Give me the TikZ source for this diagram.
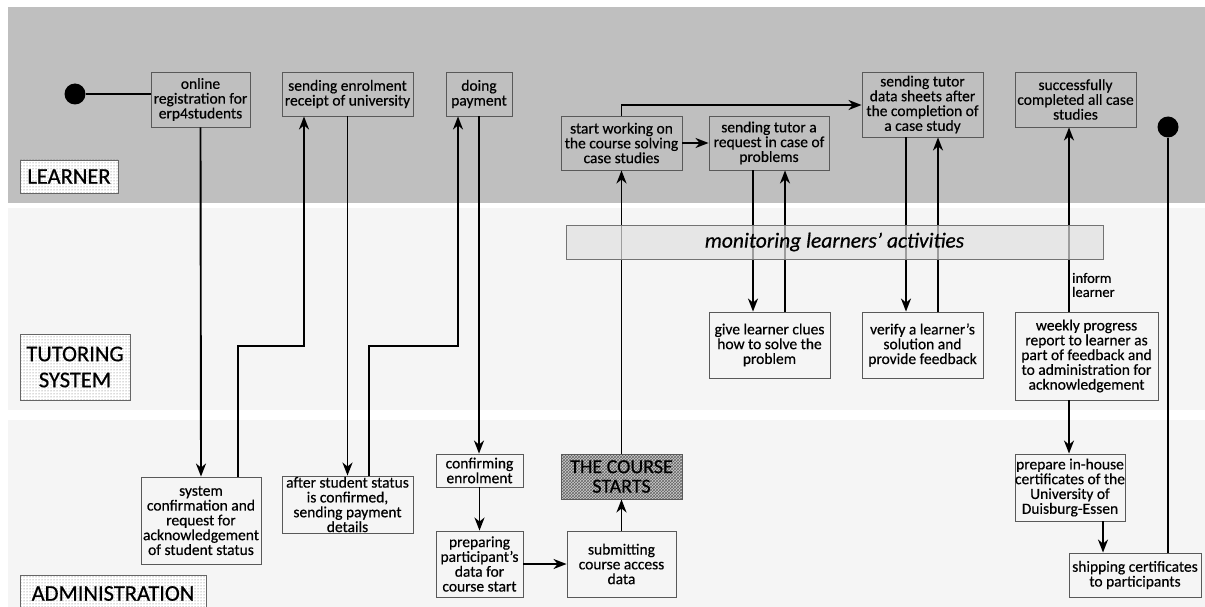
\documentclass[tikz,border=0pt]{standalone}
\usepackage{fontspec}
\setmainfont{Carlito}
\newfontfamily\nf{Carlito}[FakeBold=0.5]
\usetikzlibrary{arrows.meta,patterns,calc}
\begin{document}
\begin{tikzpicture}[x=1pt,y=-1pt,
  box/.style={draw=black!65,line width=0.9pt,text=black,align=center,inner sep=0pt,
    font=\nf\fontsize{15.5}{14.8}\selectfont},
  lanelabel/.style={draw=black!60,line width=0.9pt,preaction={fill=white},pattern=dots,pattern color=black!60,
    align=center,inner sep=0pt,text=black,font=\nf\fontsize{22.5}{26}\selectfont},
  conn/.style={line width=1.9pt,black},
  arr/.style={conn,-{Stealth[length=13pt,width=10pt,inset=4pt]}},
  dot/.style={circle,fill=black,minimum size=21pt,inner sep=0pt}]
\useasboundingbox (0,0) rectangle (1205,607);
\clip (0,0) rectangle (1205,607);
% lanes
\fill[white] (0,0) rectangle (1205,607);
\fill[black!25] (8,7) rectangle (1205,203);
\fill[black!4] (8,208) rectangle (1205,410);
\fill[black!4] (8,420) rectangle (1205,607);
% lane labels
\node[lanelabel,minimum width=98pt,minimum height=33pt] (l1) at (69,176.5) {LEARNER};
\node[lanelabel,minimum width=110pt,minimum height=66pt] (l2) at (75,367) {TUTORING\\SYSTEM};
\node[lanelabel,minimum width=186pt,minimum height=37pt] (l3) at (113,593.5) {ADMINISTRATION};
% learner nodes
\node[dot] (sdot) at (75,94) {};
\node[dot] (edot) at (1168,127) {};
\node[box,minimum width=99pt,minimum height=55pt] (reg) at (200.5,99.5) {online\\registration for\\erp4students};
\node[box,minimum width=131pt,minimum height=44pt] (enrol) at (347.5,94) {sending enrolment\\receipt of university};
\node[box,minimum width=66pt,minimum height=44pt] (pay) at (479,94) {doing\\payment};
\node[box,minimum width=121pt,minimum height=54pt] (start) at (621.5,143) {start working on\\the course solving\\case studies};
\node[box,minimum width=120pt,minimum height=54pt] (request) at (769,143) {sending tutor a\\request in case of\\problems};
\node[box,minimum width=121pt,minimum height=65pt] (sheets) at (922.5,104.5) {sending tutor\\data sheets after\\the completion of\\a case study};
\node[box,minimum width=121pt,minimum height=55pt] (done) at (1075.5,99.5) {successfully\\completed all case\\studies};
% tutoring nodes
\node[box,minimum width=121pt,minimum height=66pt] (clues) at (769.5,345) {give learner clues\\how to solve the\\problem};
\node[box,minimum width=121pt,minimum height=66pt] (verify) at (922.5,345) {verify a learner’s\\solution and\\provide feedback};
\node[box,minimum width=143pt,minimum height=88pt] (weekly) at (1086.5,356) {weekly progress\\report to learner as\\part of feedback and\\to administration for\\acknowledgement};
% administration nodes
\node[box,minimum width=120pt,minimum height=87pt] (syscon) at (201,520.5) {system\\confirmation and\\request for\\acknowledgement\\of student status};
\node[box,minimum width=131pt,minimum height=57pt] (after) at (347.5,504.5) {after student status\\is confirmed,\\sending payment\\details};
\node[box,minimum width=87pt,minimum height=33pt] (confirm) at (479.5,470.5) {confirming\\enrolment};
\node[box,minimum width=87pt,minimum height=66pt] (prep) at (479.5,564) {preparing\\participant’s\\data for\\course start};
\node[box,minimum width=109pt,minimum height=66pt] (submit) at (621.5,564) {submitting\\course access\\data};
\node[box,minimum width=121pt,minimum height=45pt,preaction={fill=black!20},pattern=crosshatch,pattern color=black!60,
  font=\nf\fontsize{20}{19.5}\selectfont,text=black] (starts) at (621.5,476.5) {THE COURSE\\STARTS};
\node[box,minimum width=110pt,minimum height=67pt] (cert) at (1070,487.5) {prepare in-house\\certificates of the\\University of\\Duisburg-Essen};
\node[box,minimum width=132pt,minimum height=44pt] (ship) at (1135,575) {shipping certificates\\to participants};
% helper coordinates
\coordinate (c1) at (238,0);
\coordinate (c2) at (304,0);
\coordinate (c3) at (369,0);
\coordinate (c4) at (458,0);
\coordinate (c5) at (753,0);
\coordinate (c6) at (785,0);
\coordinate (c7) at (906,0);
\coordinate (c8) at (938,0);
\coordinate (c9) at (1069,0);
\coordinate (c10) at (1103,0);
\coordinate (c11) at (1168,0);
% connectors
\draw[conn] (sdot) -- (sdot -| reg.west);
\draw[arr] (reg.south) -- (syscon.north);
\draw[arr] (c1 |- syscon.north) -- (238,346) -| (c2 |- enrol.south);
\draw[arr] (enrol.south) -- (after.north);
\draw[arr] (c3 |- after.north) -- (369,346) -| (c4 |- pay.south);
\draw[arr] (pay.south) -- (pay.south |- confirm.north);
\draw[arr] (confirm.south) -- (prep.north);
\draw[arr] (prep.east) -- (submit.west);
\draw[arr] (submit.north) -- (starts.north |- starts.south);
\draw[arr] (starts.north) -- (start.south);
\draw[arr] (start.east) -- (request.west);
\draw[arr] (start.north) -- (start.north |- 0,105) -- (sheets.west |- 0,105);
\draw[arr] (c5 |- request.south) -- (c5 |- clues.north);
\draw[arr] (c6 |- clues.north) -- (c6 |- request.south);
\draw[arr] (c7 |- sheets.south) -- (c7 |- verify.north);
\draw[arr] (c8 |- verify.north) -- (c8 |- sheets.south);
\draw[arr] (c9 |- weekly.north) -- (c9 |- done.south);
\draw[arr] (c9 |- weekly.south) -- (c9 |- cert.north);
\draw[arr] (c10 |- cert.south) -- (c10 |- ship.north);
\draw[conn] (edot) -- (c11 |- ship.north);
\node[anchor=west,align=left,inner sep=0pt,text=black,font=\nf\fontsize{14.5}{14}\selectfont] (inform) at (1072,285) {inform\\learner};
% monitoring bar
\node[draw=black!55,line width=0.8pt,fill=black!12,fill opacity=0.7,text opacity=1,text=black,
  minimum width=537pt,minimum height=34pt,inner sep=0pt,font=\nf\fontsize{21.5}{21}\selectfont\itshape] (mon) at (834.5,242) {monitoring learners’ activities};
\end{tikzpicture}
\end{document}
